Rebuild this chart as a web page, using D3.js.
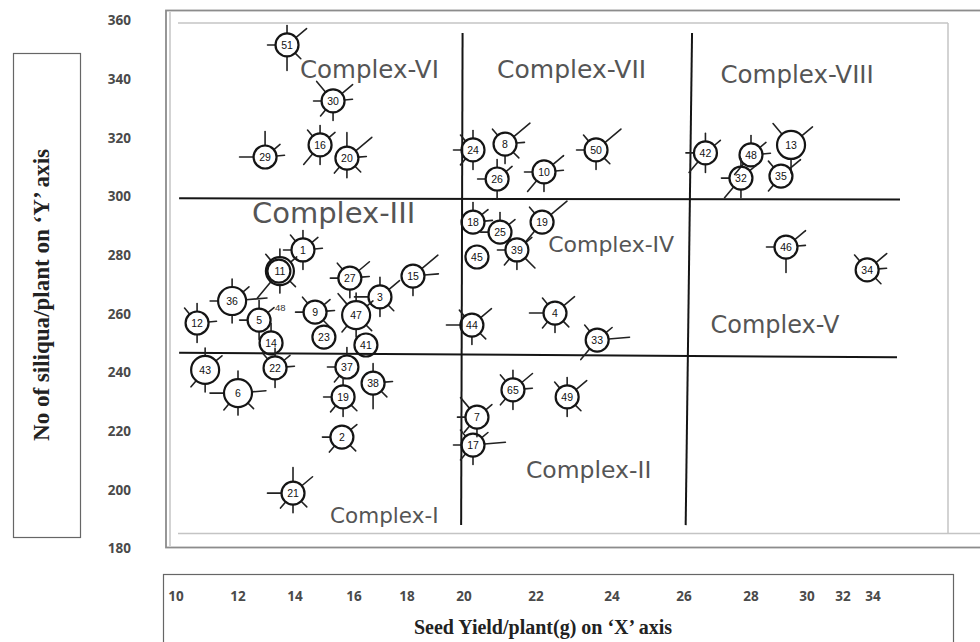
<!DOCTYPE html>
<html lang="en">
<head>
<meta charset="UTF-8">
<title>Metroglyph: seed yield vs siliqua per plant</title>
<script src="https://cdn.jsdelivr.net/npm/d3@7"></script>
<style>
  body { margin: 0; background: #fff; }
  svg { display: block; }
  .ylab text, .xlab { font-family: "Open Sans", sans-serif; font-weight: 700; font-size: 13.5px; fill: #4a4a4a; }
  .axis-title { font-family: "Liberation Serif", "Times New Roman", serif; font-weight: 700; fill: #222; }
  .complex { font-family: "DejaVu Sans", sans-serif; fill: #555; }
  .glyph circle { fill: none; stroke: #151515; stroke-width: 2.2px; }
  .glyph line { stroke: #222; stroke-width: 1.6px; stroke-linecap: round; }
  .glyph text { font-family: "Liberation Sans", Arial, sans-serif; font-size: 10.5px; fill: #111; text-anchor: middle; }
  .split { stroke: #151515; stroke-width: 2px; }
</style>
</head>
<body>
<svg id="chart" width="980" height="642"></svg>
<script>
// genotype numbers written in the glyphs
const ids = ["51","30","29","16","20","24","8","26","10","50","42","48","13","32","35",
  "1","11","27","15","36","3","12","5","9","47","14","23","41",
  "18","25","19","39","45","44","4","33","46","34",
  "43","22","6","37","38","19","2","21","65","49","7","17"];

// seed yield / plant (g)
const seedYield = [13.72,15.29,12.95,14.85,15.76,20.25,21.14,20.92,22.21,23.58,26.64,28.0,29.43,27.70,29.07,
  14.27,13.47,15.86,18.21,11.81,16.98,10.68,12.74,14.68,16.08,13.16,14.98,16.45,
  20.25,21.0,22.16,21.47,20.36,20.22,22.5,23.61,29.25,33.61,
  10.94,13.30,12.0,15.76,16.72,15.63,15.59,13.93,21.36,22.82,20.36,20.25];

// number of siliqua / plant
const siliqua = [351.5,332.4,313.3,317.4,312.9,315.7,317.7,305.8,308.2,315.7,314.7,314.0,317.4,306.1,306.8,
  281.6,274.4,272.0,272.7,264.2,265.6,256.7,257.7,260.4,259.4,249.9,251.9,249.2,
  291.1,287.7,291.1,281.6,279.2,256.0,260.1,250.9,282.6,274.8,
  240.7,241.4,232.8,241.7,236.2,231.5,217.8,198.7,233.9,231.5,224.6,215.1];

// rays of each glyph: direction + length class (1 short .. 3 long)
const rays = [
  "N1 NE2 SE1 S2 W1", "NW2 NE2 E1 W1 S1 SW1", "W2 N2 NE1 E1", "NW1 N1 NE1 SW2 S1", "N2 NE3 E1 SE1 S1 SW1",
  "NW1 N1 W1 SW1 S1", "NW1 NE3 E1 SE1 S1", "W1 NE1 N1 S1", "NE2 SW2 W1 E1 S1", "NE3 NW1 W1 SE1 S1",
  "N1 NE1 W1 S1 SW2", "N1 NE1 SW2 E1", "NW2 NE2 S2", "W1 NE1 SW2 S1 N1", "NE2 NW1 SW1",
  "N1 NE1 E1 W1 NW1 S1", "NW1 N1 NE1 SE1 S1 SW3", "NW1 NE2 E1 W1 S1", "NE3 E2 S1", "N1 NE1 W1 S1 E3",
  "NE2 N1 SE1 S1 W2", "N1 NW1 S1 E1", "W1 N1 NE1 S1", "W1 NW1 NE1 E1 SE1", "NW2 N1 NE1 SE1 S1 SW1",
  "N1", "", "",
  "N1 NE1 E1", "N1 NE1 W1", "NE3 NW1 SW2", "W1 NE1 SE2 S1 SW1", "", "W2 NW1 NE2 SE1 S1",
  "W2 NW1 NE2 SE1 S1 SW1", "NW1 NE1 E3 SW2", "W1 NE2 E1 S2", "NW1 NE2 E1 SE1",
  "N1 NE1 S1 SW1", "NW1 NE1 E1 S1 N1", "W2 N1 E2 SW1 S1 SE1", "N1 W1 SW1", "N1 E1 S2 SE1",
  "W1 N1 SW1 S1 SE1", "W1 NE1 SW1 SE1", "W2 N2 NE2 SW1 S1 SE1", "NW1 N1 NE2 E1 SW1 S1",
  "NW1 N1 NE2 S1 SE1", "NW2 W1 NE1 SW1 S1", "W1 NW1 NE1 E3 S1 SW1"
];
const bigGlyphs = ["11", "36", "43", "6", "13", "47"];

// complex boundaries (x1, y1, x2, y2 in data units)
const vSplits = [[19.95, 355.6, 19.9, 187.8], [26.24, 355.6, 26.05, 187.8]];
const hSplits = [[10.1, 299.2, 35.8, 298.8], [10.1, 246.6, 35.6, 245.0]];

// complex names and where they are written
const complexNames = ["Complex-I","Complex-II","Complex-III","Complex-IV","Complex-V","Complex-VI","Complex-VII","Complex-VIII"];
const complexX = [15.19, 21.72, 12.49, 22.32, 26.79, 14.17, 20.92, 27.09];
const complexY = [188.5, 203.8, 290.8, 280.9, 253.3, 340.2, 340.2, 338.5];

const xTicks = [10, 12, 14, 16, 18, 20, 22, 24, 26, 28, 30, 32, 34];
const yTicks = [180, 200, 220, 240, 260, 280, 300, 320, 340, 360];

const svg = d3.select("#chart");

// hand-drawn axis: ticks are not evenly spaced on the page
const x = d3.scaleLinear()
  .domain(xTicks)
  .range([176, 238, 295, 354, 407, 464, 536, 612, 684, 751, 807, 843, 873]);
const y = d3.scaleLinear().domain([180, 360]).range([548, 20]);

// y title box
svg.append("rect").attr("x", 13.5).attr("y", 53.5).attr("width", 67).attr("height", 484)
  .attr("fill", "none").attr("stroke", "#666").attr("stroke-width", 1.2);
svg.append("text").attr("class", "axis-title")
  .attr("transform", "translate(49,295) rotate(-90)")
  .attr("text-anchor", "middle")
  .style("font-size", "23px")
  .attr("textLength", 292).attr("lengthAdjust", "spacingAndGlyphs")
  .text("No of siliqua/plant on \u2018Y\u2019 axis");

// y tick labels
svg.append("g").attr("class", "ylab")
  .attr("transform", "translate(131,0)")
  .call(d3.axisLeft(y).tickValues(yTicks).tickSize(0).tickPadding(0))
  .call(g => g.select(".domain").remove())
  .call(g => g.selectAll("text").attr("dy", "0.35em"));

// plot frame (scanned picture borders)
svg.append("rect").attr("x", 166).attr("y", 10.5).attr("width", 830).attr("height", 537)
  .attr("fill", "none").attr("stroke", "#8c8c8c").attr("stroke-width", 1.8);
const frame = svg.append("g").attr("stroke", "#c4c4c4").attr("stroke-width", 1.5);
frame.append("line").attr("x1", 170).attr("x2", 170).attr("y1", 12).attr("y2", 546);
frame.append("line").attr("x1", 178).attr("x2", 948).attr("y1", 23).attr("y2", 23);
frame.append("line").attr("x1", 948).attr("x2", 948).attr("y1", 23).attr("y2", 533);
frame.append("line").attr("x1", 178).attr("x2", 980).attr("y1", 533.5).attr("y2", 533.5);

// complex boundaries
svg.append("g").selectAll("line")
  .data(vSplits.concat(hSplits))
  .join("line").attr("class", "split")
  .attr("x1", d => x(d[0])).attr("y1", d => y(d[1]))
  .attr("x2", d => x(d[2])).attr("y2", d => y(d[3]));

// complex labels
const complexSize = { "Complex-I": 21.5, "Complex-II": 23.5, "Complex-III": 29, "Complex-IV": 22,
  "Complex-V": 24, "Complex-VI": 24.5, "Complex-VII": 25, "Complex-VIII": 24.5 };
svg.append("g").selectAll("text")
  .data(complexNames)
  .join("text").attr("class", "complex")
  .attr("x", (d, i) => x(complexX[i]))
  .attr("y", (d, i) => y(complexY[i]))
  .style("font-size", d => complexSize[d] + "px")
  .text(d => d);

// glyphs
const dirAngle = { N: -90, NE: -40, E: -5, SE: 45, S: 90, SW: 130, W: 180, NW: -130 };
const rayLen = [0, 8, 14, 21];
const points = ids.map((id, i) => ({
  id, sx: seedYield[i], sy: siliqua[i],
  r: bigGlyphs.includes(id) ? 14 : 11.5,
  rays: rays[i].split(" ").filter(s => s).map(s => ({ a: dirAngle[s.slice(0, -1)], l: rayLen[+s.slice(-1)] }))
}));

const glyph = svg.append("g").selectAll("g")
  .data(points)
  .join("g").attr("class", "glyph")
  .attr("transform", d => `translate(${x(d.sx)},${y(d.sy)})`);

glyph.selectAll("line")
  .data(d => d.rays.map(r => ({ ...r, r0: d.r })))
  .join("line")
  .attr("x1", d => Math.cos(d.a * Math.PI / 180) * d.r0)
  .attr("y1", d => Math.sin(d.a * Math.PI / 180) * d.r0)
  .attr("x2", d => Math.cos(d.a * Math.PI / 180) * (d.r0 + d.l))
  .attr("y2", d => Math.sin(d.a * Math.PI / 180) * (d.r0 + d.l));

glyph.append("circle").attr("r", d => d.r);
glyph.filter(d => d.id === "11").append("circle").attr("r", d => d.r - 2.5).attr("cx", -1);
glyph.append("text").attr("dy", "0.36em").text(d => d.id);

// stray note written beside genotype 5
svg.append("text")
  .attr("x", x(12.74) + 16).attr("y", y(257.7) - 9)
  .attr("font-family", "Liberation Sans, sans-serif").attr("font-size", 9.5).attr("fill", "#333")
  .text("48");

// x title box
svg.append("rect").attr("x", 163.5).attr("y", 574.5).attr("width", 790).attr("height", 80)
  .attr("fill", "none").attr("stroke", "#666").attr("stroke-width", 1.2);
svg.append("g").selectAll("text")
  .data(xTicks)
  .join("text").attr("class", "xlab")
  .attr("x", d => x(d)).attr("y", 601)
  .attr("text-anchor", "middle")
  .text(d => d);
svg.append("text").attr("class", "axis-title")
  .attr("x", 543).attr("y", 634)
  .attr("text-anchor", "middle")
  .style("font-size", "20px")
  .text("Seed Yield/plant(g) on \u2018X\u2019 axis");
</script>
</body>
</html>
